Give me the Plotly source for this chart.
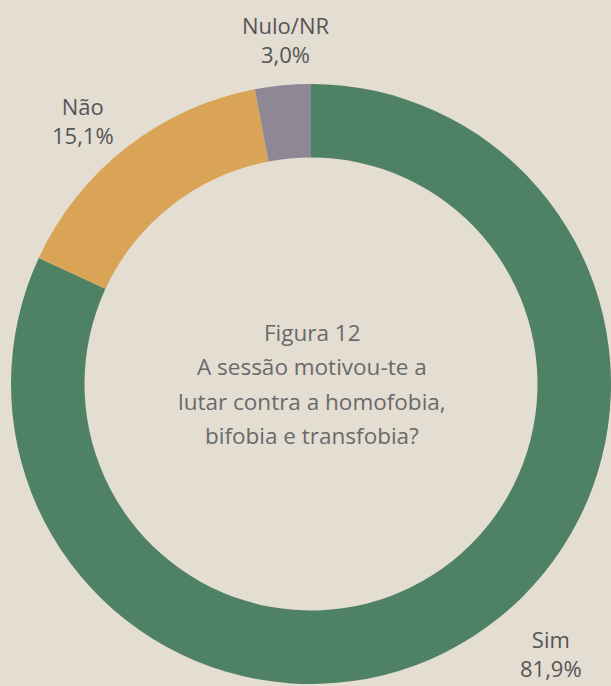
import plotly.graph_objects as go

labels = ["Sim", "Não", "Nulo/NR"]
values = [81.9, 15.1, 3.0]
colors = ["#4f8265", "#d9a455", "#8e8795"]
center_lines = ["Figura 12", "A sessão motivou-te a", "lutar contra a homofobia,", "bifobia e transfobia?"]

W, H = 611, 686
bg = "#e4ddd1"

fig = go.Figure(go.Pie(
    labels=labels, values=values, sort=False, direction="clockwise", rotation=0,
    hole=0.755, marker=dict(colors=colors, line=dict(width=0)),
    textinfo="none", hoverinfo="label+percent", showlegend=False,
    domain=dict(x=[11 / W, 1.0], y=[2 / H, 602 / H]),
))

def fmt(v):
    return f"{v:.1f}".replace(".", ",") + "%"

# outside label positions (pixels: centre x, middle y)
label_pos = {"Sim": (551, 653), "Não": (83, 120), "Nulo/NR": (285, 40)}
annotations = []
for lab, val in zip(labels, values):
    px, py = label_pos[lab]
    annotations.append(dict(
        text=f"{lab}<br>{fmt(val)}", x=px / W, y=1 - py / H, xref="paper", yref="paper",
        xanchor="center", yanchor="middle", showarrow=False,
        font=dict(family="Open Sans", size=22, color="#555555"),
    ))

center_y = [332, 366, 401, 435]
for line, cy in zip(center_lines, center_y):
    annotations.append(dict(
        text=line, x=312 / W, y=1 - cy / H, xref="paper", yref="paper",
        xanchor="center", yanchor="middle", showarrow=False,
        font=dict(family="Open Sans", size=22.5, color="#6a6a6a"),
    ))

fig.update_layout(
    width=W, height=H, margin=dict(l=0, r=0, t=0, b=0),
    paper_bgcolor=bg, plot_bgcolor=bg, annotations=annotations,
)
fig.write_html("out.html", config={"displayModeBar": False},
               post_script="document.body.style.margin='0';document.body.style.overflow='hidden';")
